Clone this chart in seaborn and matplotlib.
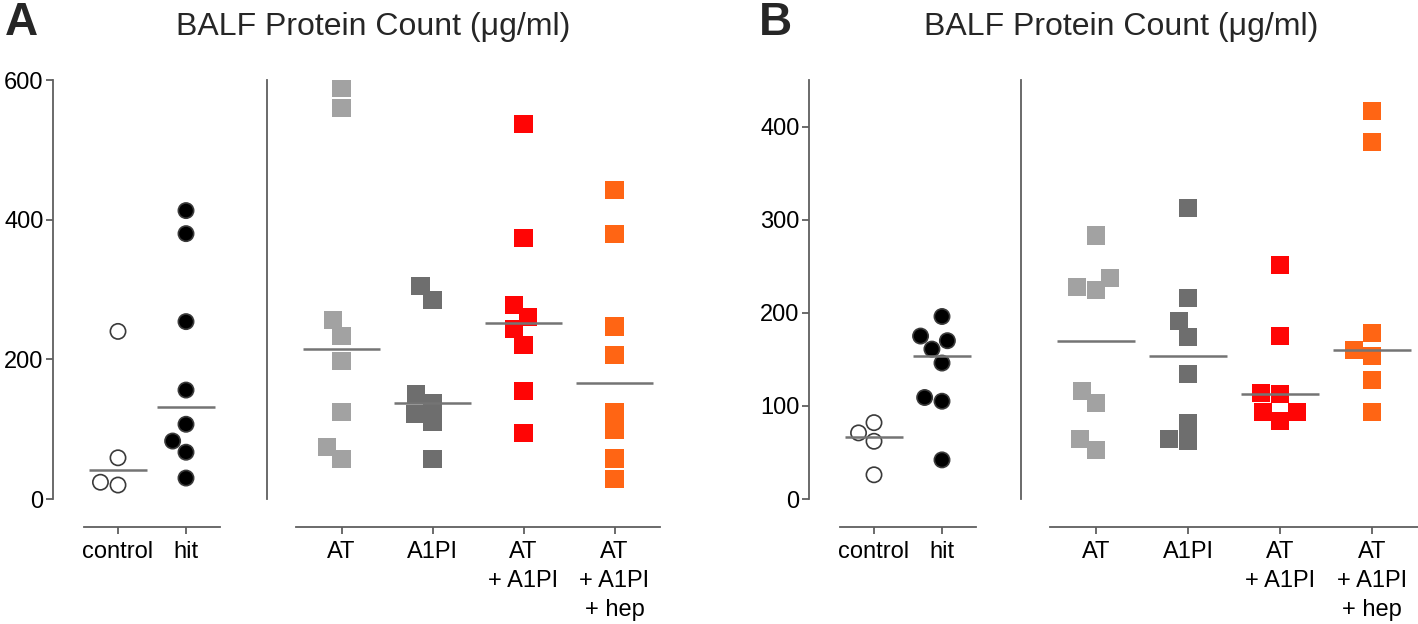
import matplotlib

matplotlib.use("Agg")
import matplotlib.pyplot as plt
import numpy as np
import pandas as pd
import seaborn as sns

sns.set_style("ticks")
plt.rcParams["font.family"] = ["Liberation Sans", "DejaVu Sans"]

# values (ug/ml)
ctrl_labels = ["control", "hit"]
treat_labels = ["AT", "A1PI", "AT\n+ A1PI", "AT\n+ A1PI\n+ hep"]

A_control = [240, 59, 20, 24]
A_hit = [413, 380, 254, 156, 107, 83, 67, 30]
A_AT = [588, 560, 256, 233, 198, 124, 74, 57]
A_A1PI = [305, 285, 151, 138, 122, 111, 57]
A_AT_A1PI = [537, 374, 278, 260, 243, 221, 154, 94]
A_AT_A1PI_hep = [443, 379, 247, 206, 125, 99, 58, 28]

B_control = [71, 62, 82, 26]
B_hit = [196, 170, 175, 161, 146, 109, 105, 42]
B_AT = [283, 237, 224, 228, 116, 103, 64, 53]
B_A1PI = [313, 216, 191, 174, 134, 82, 62, 64]
B_AT_A1PI = [251, 175, 114, 113, 93, 93, 84]
B_AT_A1PI_hep = [417, 383, 178, 160, 154, 128, 93]

A_yticks = [0, 200, 400, 600]
B_yticks = [0, 100, 200, 300, 400]

ctrl_colors = {"control": "white", "hit": "black"}
treat_colors = dict(zip(treat_labels, ["#a2a2a2", "#6e6e6e", "#ff0505", "#ff6514"]))

TITLE = "BALF Protein Count (\u03bcg/ml)"
SPINE = "#5f5f5f"


def long_df(labels, groups):
    rows = []
    for lab, vals in zip(labels, groups):
        rows += [(lab, v) for v in vals]
    return pd.DataFrame(rows, columns=["group", "value"])


def draw(ax, df, labels, palette, marker, size, lw, ylim, yticks, show_y, left_off):
    sns.swarmplot(data=df, x="group", y="value", hue="group", order=labels,
                  palette=palette, marker=marker, size=size, linewidth=lw,
                  edgecolor="#3a3a3a", legend=False, ax=ax, zorder=2)
    # median bars only
    sns.boxplot(data=df, x="group", y="value", order=labels, width=0.84,
                showbox=False, showcaps=False, showfliers=False,
                whiskerprops={"visible": False},
                medianprops={"color": "#747474", "linewidth": 1.8, "zorder": 3},
                ax=ax)
    ax.set_ylim(*ylim)
    ax.set_xlim(-0.5, len(labels) - 0.5)
    ax.set_yticks(yticks)
    ax.set_xlabel("")
    ax.set_ylabel("")
    sns.despine(ax=ax, offset={"left": left_off, "bottom": 20})
    for s in ["left", "bottom"]:
        ax.spines[s].set_color(SPINE)
        ax.spines[s].set_linewidth(1.3)
    ax.tick_params(axis="both", colors=SPINE, width=1.3, length=5, labelsize=17,
                   labelcolor="black")
    ax.tick_params(axis="x", pad=5)
    ax.tick_params(axis="y", pad=2)
    if not show_y:
        ax.tick_params(axis="y", left=False, labelleft=False)
    for t in ax.get_xticklabels():
        t.set_linespacing(1.43)
    ax.set_facecolor("none")


fig = plt.figure(figsize=(14.18, 6.24), dpi=100)
W, H = 1418, 624
bottom = 1 - 499 / H
height = (499 - 80) / H

axA1 = fig.add_axes([84 / W, bottom, 136 / W, height])
axA2 = fig.add_axes([296 / W, bottom, 364 / W, height])
axB1 = fig.add_axes([840 / W, bottom, 136 / W, height])
axB2 = fig.add_axes([1050 / W, bottom, 368 / W, height])

draw(axA1, long_df(ctrl_labels, [A_control, A_hit]), ctrl_labels, ctrl_colors,
     "o", 11, 1.2, (0, 600), A_yticks, True, 22)
draw(axA2, long_df(treat_labels, [A_AT, A_A1PI, A_AT_A1PI, A_AT_A1PI_hep]),
     treat_labels, treat_colors, "s", 13, 0, (0, 600), A_yticks, False, 21)
draw(axB1, long_df(ctrl_labels, [B_control, B_hit]), ctrl_labels, ctrl_colors,
     "o", 11, 1.2, (0, 450), B_yticks, True, 22)
draw(axB2, long_df(treat_labels, [B_AT, B_A1PI, B_AT_A1PI, B_AT_A1PI_hep]),
     treat_labels, treat_colors, "s", 13, 0, (0, 450), B_yticks, False, 21)

fig.text(373 / W, 1 - 27 / H, TITLE, ha="center", va="center", fontsize=23)
fig.text(1121 / W, 1 - 27 / H, TITLE, ha="center", va="center", fontsize=23)
fig.text(5 / W, 1 - 23 / H, "A", ha="left", va="center", fontsize=33, fontweight="bold")
fig.text(759 / W, 1 - 23 / H, "B", ha="left", va="center", fontsize=33, fontweight="bold")

fig.savefig("out.png", dpi=100)
